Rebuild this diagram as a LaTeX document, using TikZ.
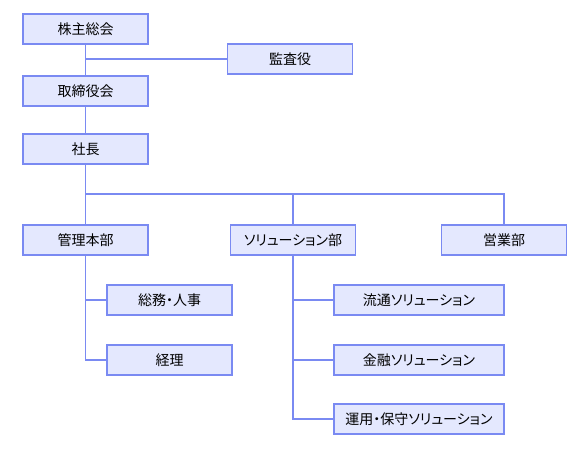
\documentclass[tikz,border=0pt]{standalone}
\usepackage{fontspec}
\setmainfont[RawFeature=+palt]{Noto Sans CJK JP}
\usetikzlibrary{positioning}
\definecolor{orgline}{HTML}{7A8AF2}
\definecolor{orgfill}{HTML}{E4E8FE}
\tikzset{
  orgbox/.style={draw=orgline, fill=orgfill, line width=1.3pt, inner sep=0pt,
    minimum width=125pt, minimum height=30pt, font=\fontsize{14pt}{16pt}\selectfont},
  widebox/.style={orgbox, minimum width=170pt},
  link/.style={draw=orgline, line width=1.1pt}
}
\begin{document}
\begin{tikzpicture}[x=1pt,y=-1pt]
  \useasboundingbox (0,0) rectangle (578,461);
  % upper chain
  \node[orgbox] (kabunushi) at (85.5,29) {株主総会};
  \node[orgbox] (kansa) at (290,59) {監査役};
  \node[orgbox] (torishimari) at (85.5,91) {取締役会};
  \node[orgbox] (shacho) at (85.5,149) {社長};
  % departments
  \node[orgbox] (kanri) at (85.5,240) {管理本部};
  \node[orgbox] (solution) at (293,240) {ソリューション部};
  \node[orgbox] (eigyo) at (504,240) {営業部};
  % sections
  \node[orgbox] (somu) at (169.5,300) {総務・人事};
  \node[orgbox] (keiri) at (169.5,360) {経理};
  \node[widebox] (ryutsu) at (419,300) {流通ソリューション};
  \node[widebox] (kinyu) at (419,360) {金融ソリューション};
  \node[widebox] (unyo) at (419,419) {運用・保守ソリューション};
  \coordinate (bus) at (85.5,194);

  \draw[link] (kabunushi) -- (torishimari);
  \draw[link] (kansa.west) -- (kansa.west -| kabunushi.south);
  \draw[link] (torishimari) -- (shacho);
  \draw[link] (shacho) -- (kanri);
  \draw[link] (bus) -| (eigyo.north);
  \draw[link] (bus -| solution.north) -- (solution.north);
  \draw[link] (kanri.south) |- (keiri.west);
  \draw[link] (kanri.south |- somu.west) -- (somu.west);
  \draw[link] (solution.south) |- (unyo.west);
  \foreach \sec in {ryutsu,kinyu}
    \draw[link] (solution.south |- \sec.west) -- (\sec.west);
\end{tikzpicture}
\end{document}
